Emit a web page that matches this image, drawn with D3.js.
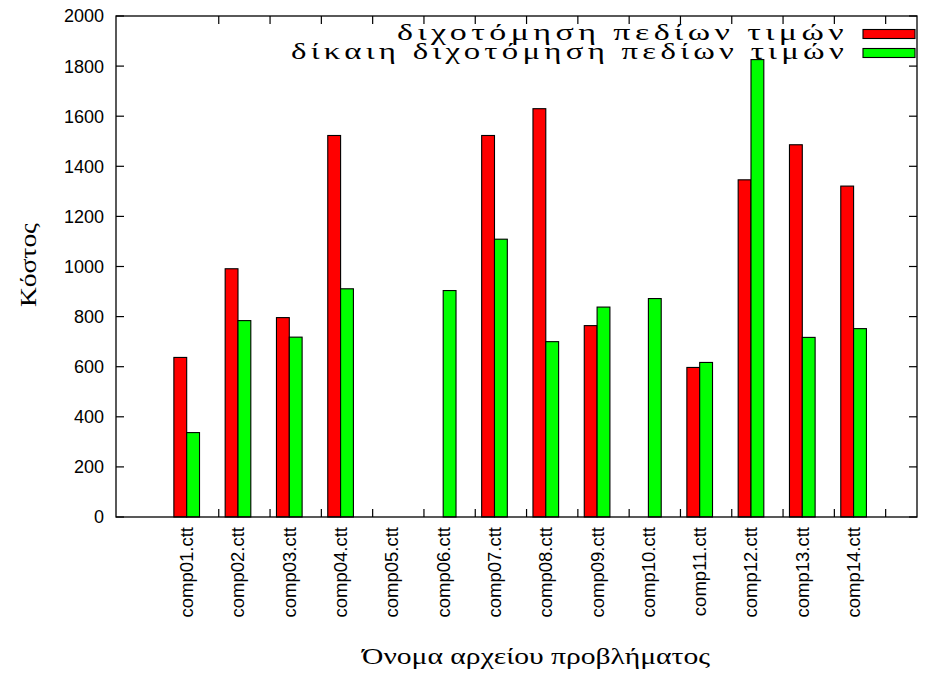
<!DOCTYPE html>
<html><head><meta charset="utf-8">
<script src="https://cdn.jsdelivr.net/npm/d3@7"></script>
<style>body{margin:0;background:#fff}svg{display:block}</style>
</head><body>
<script>
const categories = ["comp01.ctt","comp02.ctt","comp03.ctt","comp04.ctt","comp05.ctt","comp06.ctt","comp07.ctt","comp08.ctt","comp09.ctt","comp10.ctt","comp11.ctt","comp12.ctt","comp13.ctt","comp14.ctt"];
const seriesNames = ["διχοτόμηση πεδίων τιμών","δίκαιη διχοτόμηση πεδίων τιμών"];
const redValues = [637, 991, 796, 1523, 0, 0, 1523, 1630, 764, 0, 597, 1346, 1486, 1321];
const greenValues = [337, 784, 718, 911, 0, 904, 1109, 700, 838, 872, 617, 1826, 717, 752];
const yTicks = [0,200,400,600,800,1000,1200,1400,1600,1800,2000];
const colors = ["#ff0000","#00ff00"];
const xTitle = "Όνομα αρχείου προβλήματος";
const yTitle = "Κόστος";

const W = 929, H = 675;
const L = 116, R = 917, T = 16, B = 517;
const svg = d3.select("body").append("svg").attr("width", W).attr("height", H);

const x = d3.scaleLinear().domain([-1.378, 14.236]).range([L, R]);
const y = d3.scaleLinear().domain([0, 2000]).range([B, T]);
const bw = x(0.25) - x(0);

const series = [redValues, greenValues];
series.forEach((vals, s) => {
  svg.append("g").selectAll("rect").data(vals).join("rect")
    .attr("x", (d, i) => s === 0 ? x(i) - bw : x(i))
    .attr("y", d => y(d))
    .attr("width", bw)
    .attr("height", d => y(0) - y(d))
    .attr("fill", colors[s])
    .attr("stroke", "#000")
    .attr("stroke-width", 1.1);
});

// frame
svg.append("rect").attr("x", L).attr("y", T).attr("width", R - L).attr("height", B - T)
  .attr("fill", "none").attr("stroke", "#000").attr("stroke-width", 1.3);

// y ticks
const tl = 8;
yTicks.forEach(t => {
  svg.append("line").attr("x1", L).attr("x2", L + tl).attr("y1", y(t)).attr("y2", y(t)).attr("stroke", "#000").attr("stroke-width", 1.2);
  svg.append("line").attr("x1", R).attr("x2", R - tl).attr("y1", y(t)).attr("y2", y(t)).attr("stroke", "#000").attr("stroke-width", 1.2);
  svg.append("text").attr("x", 104).attr("y", y(t)).attr("dy", "0.36em")
    .attr("text-anchor", "end").attr("font-family", "Liberation Sans, Arial, sans-serif")
    .attr("font-size", 18).text(t);
});

// x ticks (between groups)
categories.forEach((c, i) => {
  const tx = x(i + 0.625);
  svg.append("line").attr("x1", tx).attr("x2", tx).attr("y1", B).attr("y2", B - tl).attr("stroke", "#000").attr("stroke-width", 1.2);
  svg.append("line").attr("x1", tx).attr("x2", tx).attr("y1", T).attr("y2", T + tl).attr("stroke", "#000").attr("stroke-width", 1.2);
  svg.append("text")
    .attr("transform", `translate(${x(i) + 6.5},527) rotate(-90)`)
    .attr("text-anchor", "end")
    .attr("font-family", "Liberation Sans, Arial, sans-serif")
    .attr("font-size", 18.5).text(c);
});

// legend
const legY = [34, 53];
seriesNames.forEach((n, s) => {
  svg.append("text").attr("x", 848).attr("y", legY[s] + 6).attr("text-anchor", "end")
    .attr("font-family", "Liberation Serif, serif").attr("font-size", 23)
    .attr("letter-spacing", 3)
    .attr("textLength", s === 0 ? 451 : 557).attr("lengthAdjust", "spacingAndGlyphs")
    .text(n);
  svg.append("rect").attr("x", 863).attr("y", legY[s] - 4.5).attr("width", 52).attr("height", 9)
    .attr("fill", colors[s]).attr("stroke", "#000").attr("stroke-width", 1.1);
});

// axis titles
svg.append("text").attr("x", 536).attr("y", 664).attr("text-anchor", "middle")
  .attr("font-family", "Liberation Serif, serif").attr("font-size", 24)
  .attr("textLength", 348).attr("lengthAdjust", "spacingAndGlyphs").text(xTitle);
svg.append("text").attr("transform", "translate(36,265) rotate(-90)").attr("text-anchor", "middle")
  .attr("font-family", "Liberation Serif, serif").attr("font-size", 24)
  .attr("textLength", 84).attr("lengthAdjust", "spacingAndGlyphs").text(yTitle);
</script>
</body></html>
